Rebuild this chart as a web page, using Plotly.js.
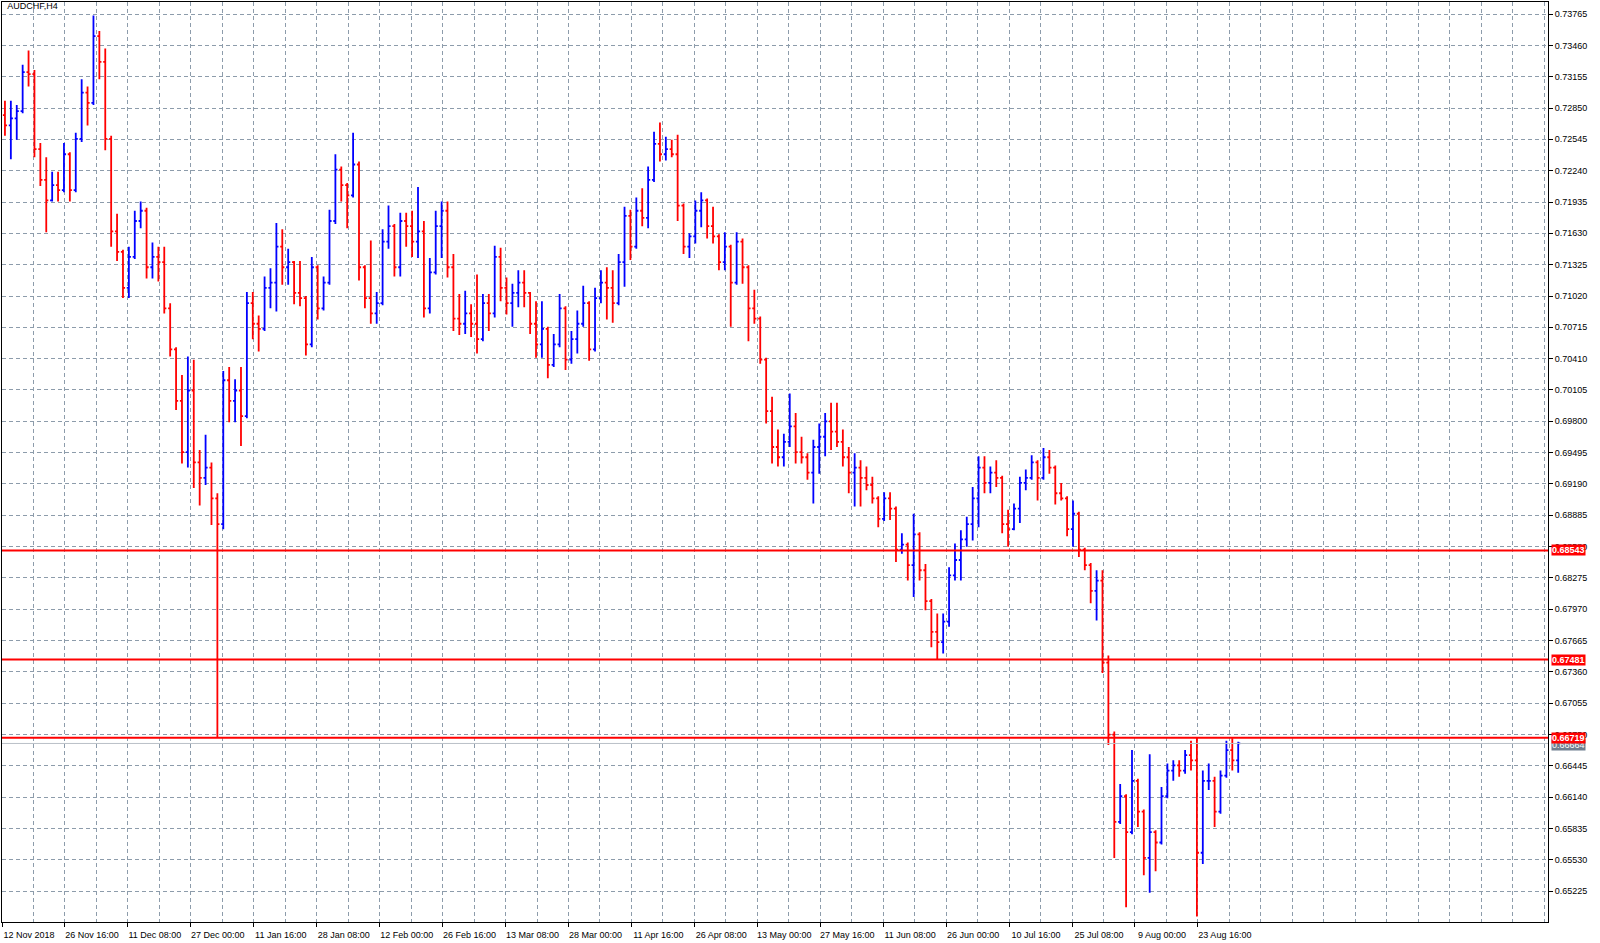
<!DOCTYPE html>
<html><head><meta charset="utf-8">
<script src="https://cdn.plot.ly/plotly-3.0.1.min.js"></script>
<style>html,body{margin:0;padding:0;background:#fff}#chart{width:1600px;height:943px}</style>
</head><body><div id="chart"></div>
<script>
const symbolTitle = 'AUDCHF,H4';

// Daily-aggregated OHLC (12 Nov 2018 - end Aug 2019)
const openP = [
0.7278,0.7268,0.7275,0.7282,0.7320,0.7318,0.7245,0.7215,0.7195,0.7210,
0.7205,0.7240,0.7205,0.7255,0.7300,0.7290,0.7355,0.7330,0.7255,0.7165,
0.7145,0.7110,0.7140,0.7175,0.7185,0.7130,0.7140,0.7135,0.7090,0.7050,
0.7000,0.6950,0.7010,0.6940,0.6925,0.6935,0.6905,0.6880,0.7020,0.7000,
0.7010,0.6985,0.7095,0.7075,0.7070,0.7110,0.7115,0.7150,0.7130,0.7135,
0.7105,0.7100,0.7055,0.7130,0.7090,0.7115,0.7175,0.7225,0.7210,0.7200,
0.7230,0.7130,0.7100,0.7085,0.7095,0.7155,0.7170,0.7130,0.7175,0.7170,
0.7155,0.7165,0.7090,0.7125,0.7170,0.7185,0.7130,0.7080,0.7075,0.7085,
0.7075,0.7060,0.7095,0.7085,0.7140,0.7110,0.7095,0.7105,0.7115,0.7105,
0.7075,0.7055,0.7070,0.7035,0.7055,0.7090,0.7040,0.7060,0.7075,0.7095,
0.7050,0.7100,0.7115,0.7110,0.7095,0.7135,0.7180,0.7150,0.7185,0.7178,
0.7215,0.7250,0.7240,0.7245,0.7240,0.7190,0.7150,0.7160,0.7185,0.7195,
0.7170,0.7160,0.7135,0.7150,0.7115,0.7155,0.7130,0.7090,0.7080,0.7040,
0.6990,0.6955,0.6945,0.6960,0.6975,0.6950,0.6945,0.6930,0.6955,0.6965,
0.6980,0.6970,0.6960,0.6945,0.6930,0.6935,0.6925,0.6918,0.6905,0.6885,
0.6905,0.6895,0.6855,0.6860,0.6840,0.6870,0.6835,0.6805,0.6775,0.6765,
0.6785,0.6830,0.6845,0.6865,0.6880,0.6905,0.6935,0.6920,0.6930,0.6925,
0.6880,0.6875,0.6895,0.6920,0.6925,0.6940,0.6925,0.6945,0.6935,0.6910,
0.6905,0.6875,0.6890,0.6855,0.6840,0.6815,0.6825,0.6745,0.6675,0.6590,
0.6615,0.6580,0.6630,0.6600,0.6555,0.6580,0.6570,0.6615,0.6640,0.6645,
0.6640,0.6655,0.6650,0.6560,0.6630,0.6630,0.6600,0.6635,0.6660,0.6650
];
const highP = [
0.7292,0.7292,0.7288,0.7327,0.7341,0.7322,0.7251,0.7237,0.7223,0.7223,
0.7251,0.7242,0.7261,0.7313,0.7306,0.7375,0.7360,0.7343,0.7258,0.7182,
0.7147,0.7150,0.7185,0.7194,0.7188,0.7154,0.7150,0.7150,0.7095,0.7052,
0.7025,0.7043,0.7040,0.6952,0.6967,0.6940,0.6910,0.7029,0.7033,0.7021,
0.7033,0.7106,0.7106,0.7083,0.7121,0.7129,0.7173,0.7167,0.7148,0.7136,
0.7136,0.7102,0.7140,0.7132,0.7121,0.7186,0.7240,0.7228,0.7212,0.7261,
0.7233,0.7132,0.7156,0.7106,0.7167,0.7190,0.7172,0.7183,0.7183,0.7185,
0.7208,0.7175,0.7139,0.7185,0.7194,0.7194,0.7143,0.7104,0.7107,0.7094,
0.7123,0.7104,0.7104,0.7151,0.7149,0.7120,0.7114,0.7127,0.7127,0.7106,
0.7097,0.7097,0.7072,0.7065,0.7104,0.7092,0.7068,0.7088,0.7112,0.7097,
0.7110,0.7127,0.7130,0.7127,0.7143,0.7189,0.7186,0.7198,0.7207,0.7228,
0.7262,0.7271,0.7257,0.7254,0.7259,0.7192,0.7163,0.7195,0.7203,0.7197,
0.7189,0.7162,0.7164,0.7152,0.7164,0.7158,0.7132,0.7108,0.7082,0.7042,
0.7004,0.6972,0.6968,0.7007,0.6988,0.6965,0.6949,0.6962,0.6978,0.6988,
0.6998,0.6998,0.6972,0.6955,0.6949,0.6942,0.6936,0.6926,0.6907,0.6911,
0.6911,0.6897,0.6871,0.6862,0.6890,0.6872,0.6841,0.6807,0.6793,0.6793,
0.6838,0.6861,0.6874,0.6887,0.6916,0.6946,0.6946,0.6936,0.6942,0.6927,
0.6894,0.6900,0.6926,0.6933,0.6947,0.6942,0.6954,0.6952,0.6937,0.6920,
0.6907,0.6903,0.6892,0.6857,0.6842,0.6835,0.6835,0.6752,0.6678,0.6627,
0.6617,0.6660,0.6632,0.6602,0.6656,0.6582,0.6624,0.6647,0.6650,0.6650,
0.6660,0.6669,0.66719,0.6640,0.6647,0.6634,0.6640,0.6669,0.66715,0.6668
];
const lowP = [
0.7258,0.7235,0.7254,0.7280,0.7306,0.7237,0.7209,0.7164,0.7194,0.7194,
0.7203,0.7194,0.7203,0.7252,0.7268,0.7288,0.7313,0.7244,0.7150,0.7136,
0.7100,0.7100,0.7138,0.7168,0.7119,0.7119,0.7116,0.7085,0.7043,0.6991,
0.6939,0.6935,0.6915,0.6898,0.6918,0.6879,0.66719,0.6875,0.6979,0.6979,
0.6956,0.6983,0.7060,0.7048,0.7068,0.7090,0.7087,0.7113,0.7113,0.7094,
0.7092,0.7044,0.7052,0.7079,0.7088,0.7113,0.7172,0.7194,0.7168,0.7198,
0.7117,0.7090,0.7075,0.7075,0.7093,0.7148,0.7121,0.7121,0.7150,0.7140,
0.7139,0.7081,0.7085,0.7123,0.7139,0.7120,0.7068,0.7064,0.7065,0.7062,
0.7046,0.7058,0.7068,0.7081,0.7097,0.7084,0.7072,0.7091,0.7091,0.7065,
0.7042,0.7042,0.7022,0.7033,0.7052,0.7030,0.7036,0.7046,0.7072,0.7039,
0.7048,0.7095,0.7079,0.7076,0.7093,0.7111,0.7137,0.7148,0.7170,0.7168,
0.7213,0.7233,0.7234,0.7237,0.7175,0.7143,0.7139,0.7153,0.7169,0.7158,
0.7153,0.7127,0.7127,0.7072,0.7113,0.7114,0.7058,0.7075,0.7036,0.6978,
0.6939,0.6936,0.6936,0.6955,0.6939,0.6939,0.6923,0.6900,0.6929,0.6946,
0.6952,0.6955,0.6936,0.6910,0.6897,0.6897,0.6913,0.6900,0.6877,0.6883,
0.6884,0.6843,0.6851,0.6825,0.6809,0.6825,0.6796,0.6760,0.67485,0.6754,
0.6780,0.6825,0.6825,0.6858,0.6864,0.6877,0.6910,0.6910,0.6916,0.6871,
0.6858,0.6874,0.6881,0.6913,0.6923,0.6903,0.6923,0.6929,0.6899,0.6903,
0.6868,0.6858,0.6848,0.6835,0.6803,0.6786,0.6735,0.6665,0.6555,0.6588,
0.6507,0.6578,0.6585,0.6538,0.6521,0.6542,0.6568,0.6613,0.6630,0.6634,
0.6637,0.6640,0.6498,0.6549,0.6621,0.6585,0.6598,0.6633,0.6640,0.6638
];
const closeP = [
0.7268,0.7275,0.7282,0.7320,0.7318,0.7245,0.7215,0.7195,0.7210,0.7205,
0.7240,0.7205,0.7255,0.7300,0.7290,0.7355,0.7330,0.7255,0.7165,0.7145,
0.7110,0.7140,0.7175,0.7185,0.7130,0.7140,0.7135,0.7090,0.7050,0.7000,
0.6950,0.7010,0.6940,0.6925,0.6935,0.6905,0.6880,0.7020,0.7000,0.7010,
0.6985,0.7095,0.7075,0.7070,0.7110,0.7115,0.7150,0.7130,0.7135,0.7105,
0.7100,0.7055,0.7130,0.7090,0.7115,0.7175,0.7225,0.7210,0.7200,0.7230,
0.7130,0.7100,0.7085,0.7095,0.7155,0.7170,0.7130,0.7175,0.7170,0.7155,
0.7165,0.7090,0.7125,0.7170,0.7185,0.7130,0.7080,0.7075,0.7085,0.7075,
0.7060,0.7095,0.7085,0.7140,0.7110,0.7095,0.7105,0.7115,0.7105,0.7075,
0.7055,0.7070,0.7035,0.7055,0.7090,0.7040,0.7060,0.7075,0.7095,0.7050,
0.7100,0.7115,0.7110,0.7095,0.7135,0.7180,0.7150,0.7185,0.7178,0.7215,
0.7250,0.7240,0.7245,0.7240,0.7190,0.7150,0.7160,0.7185,0.7195,0.7170,
0.7160,0.7135,0.7150,0.7115,0.7155,0.7130,0.7090,0.7080,0.7040,0.6990,
0.6955,0.6945,0.6960,0.6975,0.6950,0.6945,0.6930,0.6955,0.6965,0.6980,
0.6970,0.6960,0.6945,0.6930,0.6935,0.6925,0.6918,0.6905,0.6885,0.6905,
0.6895,0.6855,0.6860,0.6840,0.6870,0.6835,0.6805,0.6775,0.6765,0.6785,
0.6830,0.6845,0.6865,0.6880,0.6905,0.6935,0.6920,0.6930,0.6925,0.6880,
0.6875,0.6895,0.6920,0.6925,0.6940,0.6925,0.6945,0.6935,0.6910,0.6905,
0.6875,0.6890,0.6855,0.6840,0.6815,0.6825,0.6745,0.6675,0.6590,0.6615,
0.6580,0.6630,0.6600,0.6555,0.6580,0.6570,0.6615,0.6640,0.6645,0.6640,
0.6655,0.6650,0.6560,0.6630,0.6630,0.6600,0.6635,0.6660,0.6650,0.66664
];

// Time-axis labels (trading-day index of each label)
const tickDays = [0,10.667,21.333,32,42.667,53.333,64,74.667,85.333,96,
  106.667,117.333,128,138.667,149.333,160,170.667,181.333,192,202.667];
const tickLabels = ['12 Nov 2018','26 Nov 16:00','11 Dec 08:00','27 Dec 00:00','11 Jan 16:00',
  '28 Jan 08:00','12 Feb 00:00','26 Feb 16:00','13 Mar 08:00','28 Mar 00:00','11 Apr 16:00',
  '26 Apr 08:00','13 May 00:00','27 May 16:00','11 Jun 08:00','26 Jun 00:00','10 Jul 16:00',
  '25 Jul 08:00','9 Aug 00:00','23 Aug 16:00'];

// Horizontal levels
const levels = [0.68543, 0.67481, 0.66719];

const barIndex = openP.map((_, i) => i + 0.5);
const bid = closeP[closeP.length - 1];

const FONT = 'Liberation Sans, Arial, sans-serif';
const GRID = '#8d9cab';

const shapes = [{
  type: 'line', xref: 'paper', x0: 0, x1: 1, yref: 'y', y0: bid, y1: bid,
  line: {color: '#b9c0c7', width: 1}, layer: 'above'
}].concat(levels.map(lv => ({
  type: 'line', xref: 'paper', x0: 0, x1: 1, yref: 'y', y0: lv, y1: lv,
  line: {color: '#ff0000', width: 2}, layer: 'above'
})));

const annotations = [{
  xref: 'paper', x: 1, xanchor: 'left', xshift: 3, yref: 'y', y: bid, yshift: -2,
  text: bid.toFixed(5), showarrow: false, bgcolor: '#6f7f8f', borderpad: 0,
  font: {family: FONT, size: 9, color: '#ffffff'}
}].concat(levels.map(lv => ({
  xref: 'paper', x: 1, xanchor: 'left', xshift: 3, yref: 'y', y: lv,
  text: '<b>' + lv.toFixed(5) + '</b>', showarrow: false, bgcolor: '#ff0000', borderpad: 0,
  font: {family: FONT, size: 9, color: '#ffffff'}
})));

const trace = {
  type: 'ohlc', x: barIndex, open: openP, high: highP, low: lowP, close: closeP,
  increasing: {line: {color: '#0000ff', width: 1.8}},
  decreasing: {line: {color: '#ff0000', width: 1.8}},
  tickwidth: 0.35, hoverinfo: 'skip', showlegend: false
};

const layout = {
  width: 1600, height: 943,
  margin: {l: 2, r: 52, t: 2, b: 21, pad: 0},
  paper_bgcolor: '#ffffff', plot_bgcolor: '#ffffff',
  font: {family: FONT, size: 9, color: '#000000'},
  showlegend: false,
  title: {text: symbolTitle, xref: 'container', yref: 'container', x: 0.0045, xanchor: 'left',
          y: 0.997, yanchor: 'top', font: {family: FONT, size: 9, color: '#000000'}, pad: {t: 0, l: 0, r: 0, b: 0}},
  xaxis: {
    type: 'linear', range: [0, 262], fixedrange: true,
    rangeslider: {visible: false},
    tickmode: 'array', tickvals: tickDays, ticktext: tickLabels,
    ticks: 'outside', ticklen: 4, tickcolor: '#000000', tickwidth: 1,
    ticklabelshift: 27, ticklabelstandoff: 0,
    tickfont: {family: FONT, size: 9, color: '#000000'},
    showgrid: false, zeroline: false,
    showline: true, linecolor: '#000000', linewidth: 1, mirror: true,
    minor: {tickmode: 'linear', tick0: 0, dtick: 16 / 3, showgrid: true, gridcolor: GRID,
            griddash: '4px,3px', gridwidth: 1, ticks: ''}
  },
  yaxis: {
    side: 'right', range: [0.64926, 0.73882], fixedrange: true,
    tickmode: 'linear', tick0: 0.65225, dtick: 0.00305, tickformat: '.5f',
    ticks: 'outside', ticklen: 4, tickcolor: '#000000', tickwidth: 1,
    tickfont: {family: FONT, size: 9, color: '#000000'},
    showgrid: true, gridcolor: GRID, griddash: '4px,3px', gridwidth: 1,
    zeroline: false, showline: true, linecolor: '#000000', linewidth: 1, mirror: true
  },
  shapes: shapes,
  annotations: annotations
};

Plotly.newPlot('chart', [trace], layout, {displayModeBar: false, staticPlot: true});
</script>
</body></html>
